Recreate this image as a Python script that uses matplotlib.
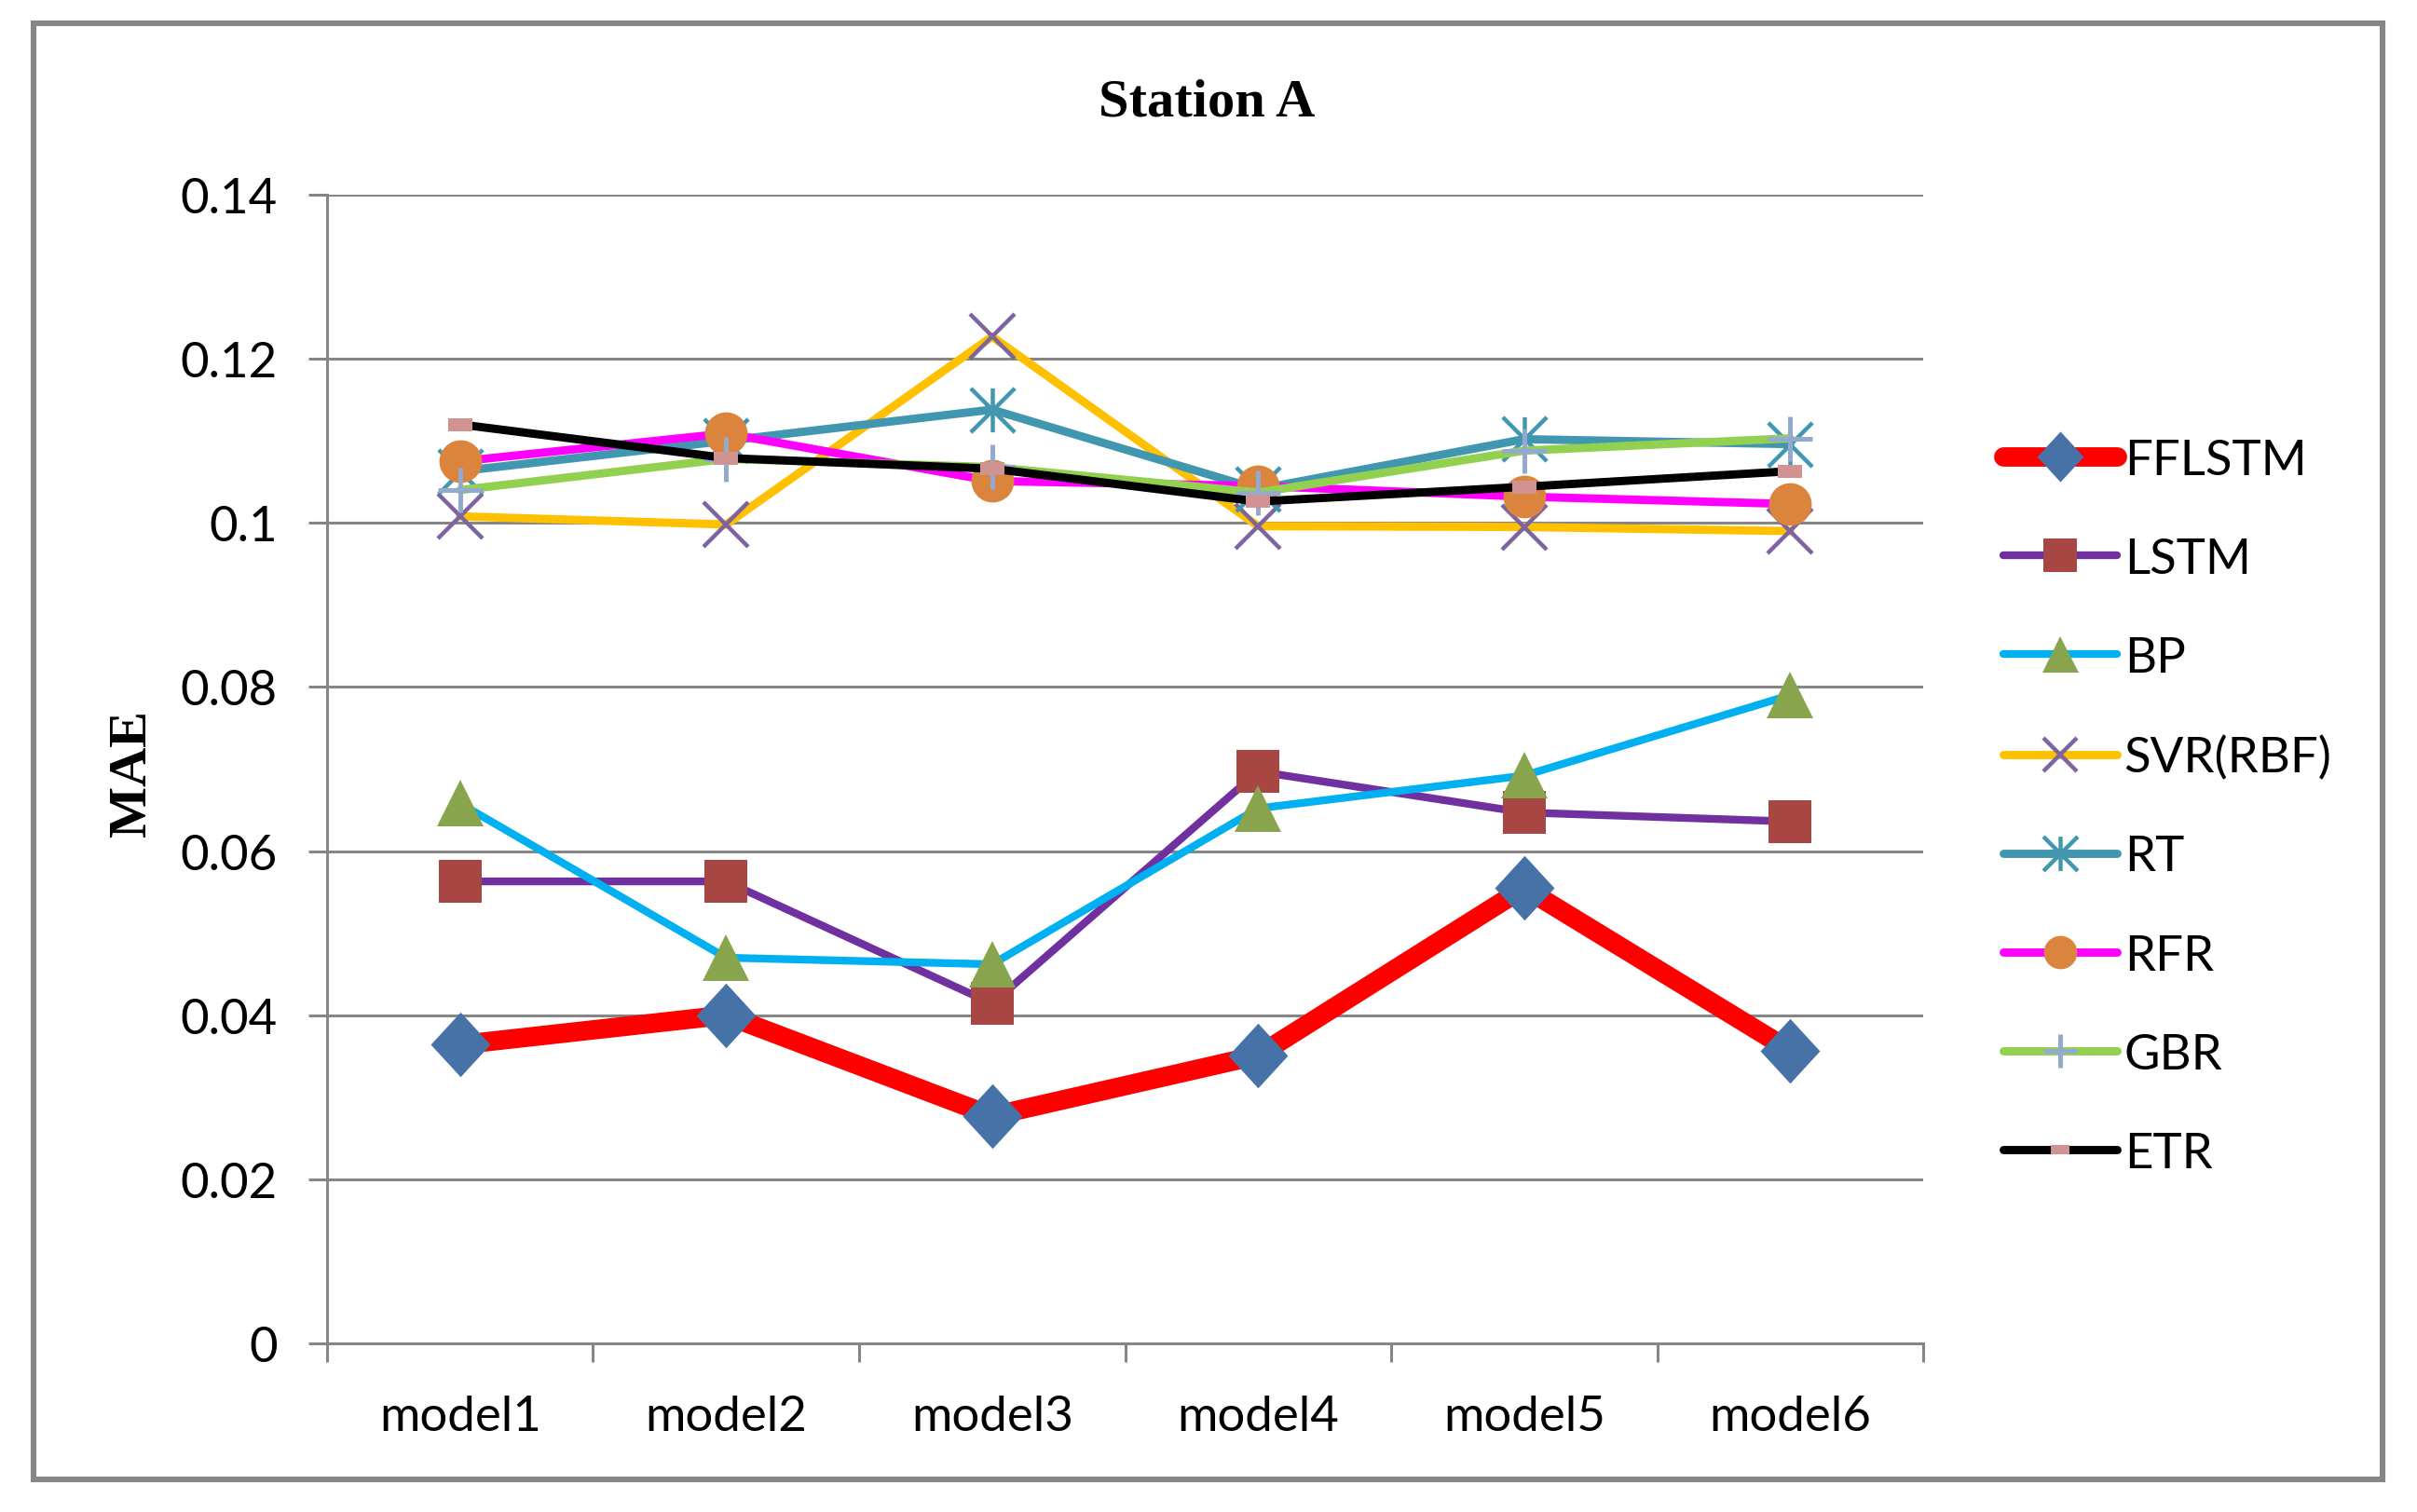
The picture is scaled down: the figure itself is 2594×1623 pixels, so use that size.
import matplotlib
matplotlib.use('Agg')
import matplotlib.pyplot as plt
from matplotlib.path import Path
from matplotlib.patches import Rectangle
from matplotlib.ticker import FixedLocator

MODELS = ['model1', 'model2', 'model3', 'model4', 'model5', 'model6']
Y_TICKS = [0, 0.02, 0.04, 0.06, 0.08, 0.1, 0.12, 0.14]
Y_LABELS = ['0', '0.02', '0.04', '0.06', '0.08', '0.1', '0.12', '0.14']

FFLSTM = [0.0364, 0.0400, 0.0277, 0.0351, 0.0555, 0.0357]
LSTM = [0.0563, 0.0563, 0.0414, 0.0697, 0.0647, 0.0636]
BP = [0.0658, 0.0470, 0.0462, 0.0652, 0.0692, 0.0790]
SVR = [0.1008, 0.0998, 0.1227, 0.0996, 0.0995, 0.0990]
RT = [0.1063, 0.1100, 0.1138, 0.1041, 0.1102, 0.1096]
RFR = [0.1075, 0.1109, 0.1051, 0.1045, 0.1032, 0.1023]
GBR = [0.1040, 0.1078, 0.1068, 0.1037, 0.1088, 0.1103]
ETR = [0.1120, 0.1079, 0.1066, 0.1026, 0.1044, 0.1063]

GRAY = '#868686'

# excel-like marker shapes
diamond = [(0, 1), (0.92, 0), (0, -1), (-0.92, 0), (0, 1)]
star = Path([(-1, -1), (1, 1), (-1, 1), (1, -1), (0, -1), (0, 1)],
            [Path.MOVETO, Path.LINETO, Path.MOVETO, Path.LINETO, Path.MOVETO, Path.LINETO])
dash = [(-1, -0.5), (1, -0.5), (1, 0.5), (-1, 0.5), (-1, -0.5)]

series = [
    ('FFLSTM', FFLSTM, dict(color='#FF0000', lw=7.5, marker=diamond, ms=25, mfc='#4672A8', mec='#4672A8', mew=0)),
    ('LSTM', LSTM, dict(color='#7030A0', lw=3.0, marker='s', ms=16.5, mfc='#A84643', mec='#A84643', mew=0)),
    ('BP', BP, dict(color='#00B0F0', lw=3.0, marker='^', ms=18, mfc='#88A54E', mec='#88A54E', mew=0)),
    ('SVR(RBF)', SVR, dict(color='#FFC000', lw=3.2, marker='x', ms=17, mec='#7E649E', mew=1.6)),
    ('RT', RT, dict(color='#4197AF', lw=3.2, marker=star, ms=17, mfc='none', mec='#4197AF', mew=1.6)),
    ('RFR', RFR, dict(color='#FF00FF', lw=3.2, marker='o', ms=16.5, mfc='#DB843D', mec='#DB843D', mew=0)),
    ('GBR', GBR, dict(color='#92D050', lw=3.2, marker='+', ms=17, mec='#93A9CF', mew=1.8)),
    ('ETR', ETR, dict(color='#000000', lw=3.2, marker=dash, ms=9.5, mfc='#D19392', mec='#D19392', mew=0)),
]

fig = plt.figure(figsize=(12.97, 8.12), dpi=200)
ax = fig.add_axes([0.1353, 0.1115, 0.6604, 0.7592])

x = list(range(len(MODELS)))
for i, (name, vals, style) in enumerate(series):
    ax.plot(x, vals, label=name, zorder=3 + i, clip_on=False,
            solid_capstyle='round', solid_joinstyle='round', **style)

ax.set_xlim(-0.5, len(MODELS) - 0.5)
ax.set_ylim(0, 0.14)
ax.set_yticks(Y_TICKS, Y_LABELS)
ax.set_xticks(x, MODELS)
ax.xaxis.set_minor_locator(FixedLocator([k - 0.5 for k in range(len(MODELS) + 1)]))

ax.grid(axis='y', color=GRAY, lw=1.1, zorder=1)
ax.set_axisbelow(True)
for side in ('top', 'right'):
    ax.spines[side].set_visible(False)
for side in ('left', 'bottom'):
    ax.spines[side].set_color(GRAY)
    ax.spines[side].set_linewidth(1.1)

ax.tick_params(axis='y', which='major', direction='out', length=7.2, width=1.1,
               color=GRAY, pad=12, labelsize=19)
ax.tick_params(axis='x', which='major', length=0, pad=20, labelsize=19)
ax.tick_params(axis='x', which='minor', direction='out', length=7.2, width=1.1, color=GRAY)
for lab in ax.get_xticklabels() + ax.get_yticklabels():
    lab.set_fontfamily('Lato')
    lab.set_color('black')

fig.text(0.4992, 0.9236, 'Station A', ha='center', va='baseline',
         fontsize=21, fontweight='bold', family='Liberation Serif')
fig.text(0.0549, 0.489, 'MAE', ha='center', va='center', rotation=90,
         fontsize=21, fontweight='bold', family='Liberation Serif')

ax.legend(loc='center left', bbox_to_anchor=(0.829, 0.466), bbox_transform=fig.transFigure,
          frameon=False, borderpad=0, borderaxespad=0, handlelength=2.3, markerscale=0.78,
          handletextpad=0.15, labelspacing=1.12, prop={'family': 'Lato', 'size': 19})

# outer frame
fig.patches.append(Rectangle((0.01388, 0.02155), 0.9719, 0.9624, transform=fig.transFigure,
                             fill=False, ec=GRAY, lw=2.2, zorder=0))

fig.savefig('out.png', dpi=200)
